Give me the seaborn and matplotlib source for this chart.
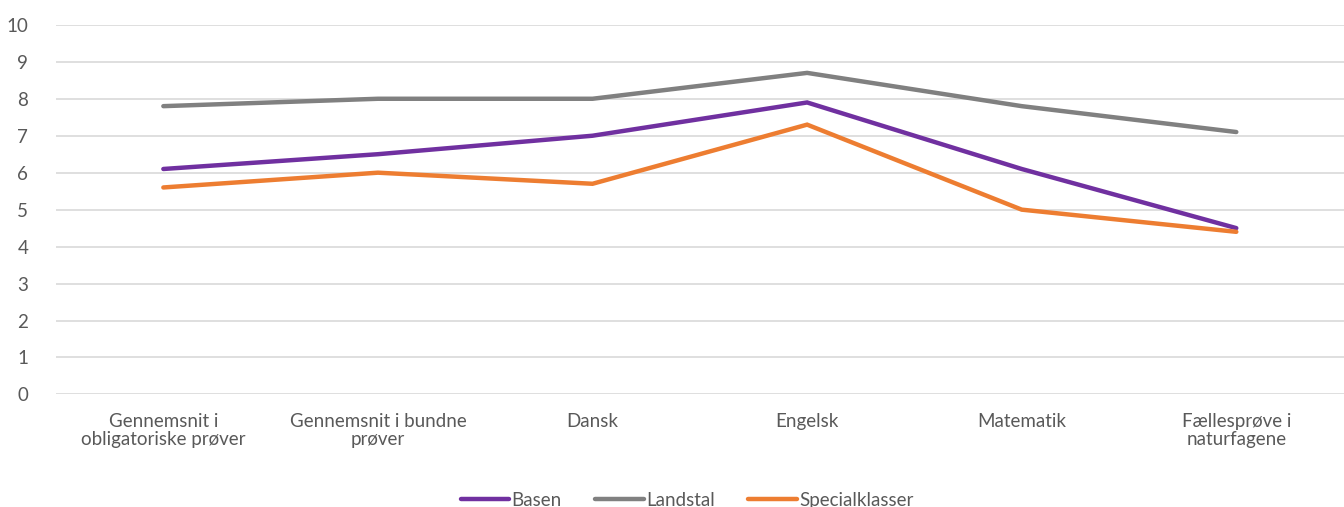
import pandas as pd
import matplotlib.pyplot as plt
import seaborn as sns

# Kategorier og værdier
kategorier = ['Gennemsnit i\nobligatoriske prøver', 'Gennemsnit i bundne\nprøver', 'Dansk',
              'Engelsk', 'Matematik', 'Fællesprøve i\nnaturfagene']
basen = [6.1, 6.5, 7.0, 7.9, 6.1, 4.5]
landstal = [7.8, 8.0, 8.0, 8.7, 7.8, 7.1]
specialklasser = [5.6, 6.0, 5.7, 7.3, 5.0, 4.4]

serier = ['Basen', 'Landstal', 'Specialklasser']
farver = ['#7030A0', '#808080', '#ED7D31']

df = pd.DataFrame({
    'kategori': kategorier * 3,
    'pos': list(range(len(kategorier))) * 3,
    'værdi': basen + landstal + specialklasser,
    'serie': [s for s in serier for _ in kategorier],
})

sns.set_style('white')
plt.rcParams['font.family'] = ['Lato', 'DejaVu Sans']
tekstfarve = '#595959'
fs = 13.5

fig = plt.figure(figsize=(13.44, 5.07), dpi=100)
ax = fig.add_axes([0.0417, 0.222, 0.958, 0.729])

sns.lineplot(data=df, x='pos', y='værdi', hue='serie', palette=farver,
             linewidth=3.2, ax=ax, legend=True)
for ln in ax.get_lines():
    ln.set_solid_capstyle('round')
    ln.set_solid_joinstyle('miter')

ax.set_xlim(-0.5, len(kategorier) - 0.5)
ax.set_ylim(0, 10)
ax.set_yticks(range(0, 11))
ax.set_xticks(range(len(kategorier)))
ax.set_xticklabels(kategorier, fontsize=fs, color=tekstfarve, linespacing=1.1)
ax.tick_params(axis='y', labelsize=fs, labelcolor=tekstfarve, length=0, pad=20)
ax.tick_params(axis='x', length=0, pad=13)
ax.yaxis.grid(True, color='#D9D9D9', linewidth=1.2)
ax.set_axisbelow(True)
for s in ax.spines.values():
    s.set_visible(False)
ax.set_xlabel('')
ax.set_ylabel('')

leg = ax.legend(loc='lower center', bbox_to_anchor=(0.49, -0.355), ncol=3, frameon=False,
                fontsize=fs, handlelength=2.6, handletextpad=0.1, columnspacing=1.8)
for t in leg.get_texts():
    t.set_color(tekstfarve)
for h in leg.get_lines():
    h.set_linewidth(3.2)
    h.set_solid_capstyle('round')

fig.savefig('out.png', dpi=100)
